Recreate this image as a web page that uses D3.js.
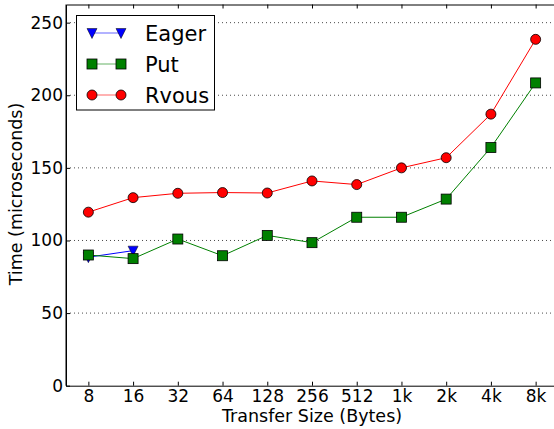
<!DOCTYPE html>
<html><head><meta charset="utf-8">
<script src="https://cdn.jsdelivr.net/npm/d3@7"></script>
<style>body{margin:0;background:#fff}svg{display:block;font-family:"DejaVu Sans",sans-serif}</style>
</head><body><svg id="c" width="554" height="429"></svg>
<script>
const categories = ["8","16","32","64","128","256","512","1k","2k","4k","8k"];
const eager = [88.5, 93];
const put = [90, 87.5, 101, 89.5, 103.5, 98.5, 116, 116, 128.5, 164, 208.5];
const rvous = [119.5, 129.5, 132.5, 133, 132.7, 141, 138.5, 150, 157, 187, 238.5];
const yTicks = [0, 50, 100, 150, 200, 250];

const svg = d3.select("#c");
const L = 66, R = 558, T = 4.5, B = 385.7;
const x = d3.scaleLinear().domain([-0.5, 10.5]).range([L, R]);
const y = d3.scaleLinear().domain([0, 262.5]).range([B, T]);

// grid
svg.append("g").selectAll("line").data(yTicks.filter(d => d > 0)).join("line")
  .attr("x1", L).attr("x2", R).attr("y1", d => y(d)).attr("y2", d => y(d))
  .attr("stroke", "#000").attr("stroke-width", 1).attr("stroke-dasharray", "1,3").attr("opacity", 0.7);

// axes (inward ticks)
const xb = svg.append("g").attr("transform", `translate(0,${B})`)
  .call(d3.axisBottom(x).tickValues(d3.range(11)).tickFormat(i => categories[i]).tickSizeInner(-4).tickSizeOuter(0).tickPadding(4));
const xt = svg.append("g").attr("transform", `translate(0,${T})`)
  .call(d3.axisTop(x).tickValues(d3.range(11)).tickFormat("").tickSizeInner(-4).tickSizeOuter(0));
const yl = svg.append("g").attr("transform", `translate(${L},0)`)
  .call(d3.axisLeft(y).tickValues(yTicks).tickSizeInner(-4).tickSizeOuter(0).tickPadding(3));
[xb, xt, yl].forEach(g => {
  g.select(".domain").attr("stroke", "#000").attr("stroke-width", 1);
  g.selectAll(".tick line").attr("stroke", "#000");
  g.selectAll("text").attr("font-size", 17).attr("fill", "#000").attr("font-family", "DejaVu Sans");
});
xb.selectAll("text").attr("dy", "0.71em");
svg.append("line").attr("x1", L).attr("x2", L).attr("y1", T).attr("y2", B).attr("stroke", "#000");

// series
const series = [
  {name: "Eager", vals: eager, color: "#0000ff", shape: "tri"},
  {name: "Put", vals: put, color: "#008000", shape: "sq"},
  {name: "Rvous", vals: rvous, color: "#ff0000", shape: "circ"}
];
const line = d3.line().x((d, i) => x(i)).y(d => y(d));
function marker(g, shape, color, cx, cy) {
  if (shape === "circ") g.append("circle").attr("cx", cx).attr("cy", cy).attr("r", 5).attr("fill", color).attr("stroke", "#000").attr("stroke-width", 0.8);
  else if (shape === "sq") g.append("rect").attr("x", cx - 5).attr("y", cy - 5).attr("width", 10).attr("height", 10).attr("fill", color).attr("stroke", "#000").attr("stroke-width", 0.8);
  else g.append("path").attr("d", `M${cx-5},${cy-4.5}L${cx+5},${cy-4.5}L${cx},${cy+5.5}Z`).attr("fill", color).attr("stroke", "#000").attr("stroke-width", 0.5);
}
series.forEach(s => {
  const g = svg.append("g");
  g.append("path").attr("d", line(s.vals)).attr("fill", "none").attr("stroke", s.color).attr("stroke-width", 1);
  s.vals.forEach((v, i) => marker(g, s.shape, s.color, x(i), y(v)));
});

// legend
const lg = svg.append("g");
lg.append("rect").attr("x", 76.5).attr("y", 15.5).attr("width", 138).attr("height", 94.5)
  .attr("fill", "#fff").attr("stroke", "#000").attr("stroke-width", 1);
series.forEach((s, k) => {
  const yy = 33 + k * 31;
  lg.append("line").attr("x1", 92).attr("x2", 121).attr("y1", yy).attr("y2", yy).attr("stroke", s.color).attr("stroke-width", 1).attr("opacity", 0.6);
  marker(lg, s.shape, s.color, 92, yy);
  marker(lg, s.shape, s.color, 121, yy);
  lg.append("text").attr("x", 145).attr("y", yy).attr("dy", "0.36em").attr("font-size", 21).text(s.name);
});

// axis labels
svg.append("text").attr("x", 312).attr("y", 422).attr("text-anchor", "middle").attr("font-size", 17.5).text("Transfer Size (Bytes)");
svg.append("text").attr("transform", "translate(22,194) rotate(-90)").attr("text-anchor", "middle").attr("font-size", 17.5).text("Time (microseconds)");
</script></body></html>
